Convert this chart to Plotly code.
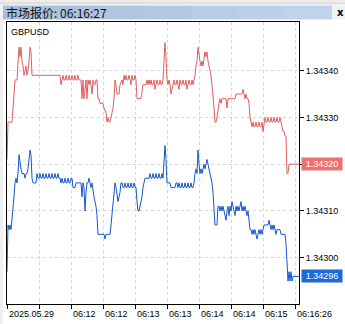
import plotly.graph_objects as go

symbol = "GBPUSD"
window_title = "市场报价: 06:16:27"

# (tick number, price)
ask_points = [
    (0, 1.34321), (1, 1.34329), (5, 1.34329), (6, 1.34332), (7, 1.34334), (8, 1.34338),
    (10, 1.34338), (11, 1.34341), (12, 1.34345), (13, 1.34343), (14, 1.34345), (15, 1.34342),
    (16, 1.34341), (17, 1.34339), (18, 1.34340), (19, 1.34341), (20, 1.34339), (21, 1.34340),
    (22, 1.34342), (23, 1.34345), (24, 1.34344), (25, 1.34339), (53, 1.34339), (54, 1.34337),
    (55, 1.34338), (56, 1.34339), (57, 1.34338), (58, 1.34338), (59, 1.34339), (60, 1.34338),
    (61, 1.34338), (62, 1.34339), (63, 1.34338), (64, 1.34338), (65, 1.34339), (66, 1.34338),
    (67, 1.34338), (68, 1.34339), (69, 1.34338), (70, 1.34338), (71, 1.34339), (72, 1.34338),
    (73, 1.34338), (74, 1.34338), (75, 1.34334), (76, 1.34338), (77, 1.34334), (78, 1.34337),
    (79, 1.34338), (80, 1.34334), (81, 1.34338), (82, 1.34337), (83, 1.34338), (84, 1.34337),
    (85, 1.34335), (86, 1.34338), (87, 1.34337), (88, 1.34337), (89, 1.34338), (90, 1.34338),
    (91, 1.34334), (92, 1.34334), (93, 1.34333), (96, 1.34333), (97, 1.34332), (99, 1.34331),
    (100, 1.34329), (101, 1.34330), (102, 1.34329), (103, 1.34329), (104, 1.34330), (105, 1.34331),
    (106, 1.34332), (107, 1.34334), (108, 1.34338), (109, 1.34337), (110, 1.34335), (112, 1.34335),
    (113, 1.34337), (115, 1.34338), (116, 1.34337), (117, 1.34339), (118, 1.34338), (119, 1.34339),
    (120, 1.34338), (121, 1.34338), (122, 1.34339), (123, 1.34338), (124, 1.34337), (125, 1.34339),
    (126, 1.34338), (127, 1.34338), (128, 1.34339), (129, 1.34338), (130, 1.34334), (134, 1.34334),
    (135, 1.34336), (136, 1.34337), (139, 1.34337), (140, 1.34338), (141, 1.34337), (142, 1.34338),
    (143, 1.34337), (144, 1.34338), (145, 1.34337), (146, 1.34337), (147, 1.34338), (148, 1.34336),
    (149, 1.34337), (150, 1.34338), (151, 1.34337), (152, 1.34337), (153, 1.34338), (154, 1.34337),
    (155, 1.34337), (156, 1.34338), (157, 1.34342), (158, 1.34346), (159, 1.34343), (160, 1.34338),
    (161, 1.34337), (162, 1.34338), (163, 1.34337), (164, 1.34335), (165, 1.34336), (166, 1.34337),
    (167, 1.34338), (168, 1.34337), (169, 1.34337), (170, 1.34338), (171, 1.34337), (172, 1.34336),
    (173, 1.34338), (174, 1.34337), (175, 1.34337), (176, 1.34338), (177, 1.34337), (178, 1.34337),
    (179, 1.34338), (180, 1.34336), (181, 1.34337), (182, 1.34338), (183, 1.34337), (184, 1.34337),
    (185, 1.34338), (186, 1.34337), (187, 1.34338), (188, 1.34339), (189, 1.34341), (190, 1.34342),
    (191, 1.34345), (192, 1.34343), (193, 1.34342), (194, 1.34341), (195, 1.34342), (196, 1.34341),
    (197, 1.34343), (198, 1.34344), (199, 1.34343), (200, 1.34344), (201, 1.34342), (202, 1.34341),
    (203, 1.34340), (204, 1.34339), (205, 1.34337), (206, 1.34335), (207, 1.34332), (208, 1.34329),
    (209, 1.34329), (210, 1.34330), (211, 1.34332), (212, 1.34333), (213, 1.34334), (214, 1.34333),
    (215, 1.34334), (219, 1.34334), (220, 1.34332), (221, 1.34334), (228, 1.34334), (229, 1.34335),
    (235, 1.34335), (236, 1.34336), (237, 1.34335), (238, 1.34334), (239, 1.34335), (240, 1.34334),
    (241, 1.34334), (242, 1.34333), (243, 1.34330), (244, 1.34329), (245, 1.34328), (246, 1.34329),
    (247, 1.34328), (248, 1.34328), (249, 1.34329), (250, 1.34328), (251, 1.34328), (252, 1.34329),
    (253, 1.34328), (254, 1.34328), (255, 1.34329), (256, 1.34327), (257, 1.34329), (258, 1.34330),
    (259, 1.34329), (260, 1.34329), (261, 1.34330), (262, 1.34329), (263, 1.34329), (264, 1.34330),
    (265, 1.34329), (266, 1.34329), (267, 1.34330), (268, 1.34329), (269, 1.34329), (270, 1.34330),
    (271, 1.34329), (272, 1.34329), (273, 1.34330), (274, 1.34329), (275, 1.34328), (276, 1.34327),
    (277, 1.34327), (278, 1.34326), (279, 1.34326), (280, 1.34318), (281, 1.34318), (282, 1.34320),
    (292, 1.34320),
]

bid_points = [
    (0, 1.34297), (1, 1.34307), (2, 1.34306), (3, 1.34307), (4, 1.34306), (5, 1.34308),
    (6, 1.34310), (7, 1.34313), (8, 1.34316), (9, 1.34317), (10, 1.34316), (11, 1.34318),
    (12, 1.34322), (13, 1.34320), (14, 1.34319), (15, 1.34318), (17, 1.34318), (18, 1.34317),
    (19, 1.34318), (20, 1.34318), (21, 1.34319), (22, 1.34321), (23, 1.34323), (24, 1.34322),
    (25, 1.34317), (26, 1.34316), (29, 1.34316), (30, 1.34318), (31, 1.34317), (32, 1.34317),
    (33, 1.34318), (34, 1.34317), (35, 1.34317), (36, 1.34318), (37, 1.34317), (38, 1.34317),
    (39, 1.34318), (40, 1.34317), (41, 1.34317), (42, 1.34318), (43, 1.34317), (44, 1.34317),
    (45, 1.34318), (46, 1.34317), (47, 1.34317), (48, 1.34318), (49, 1.34317), (50, 1.34317),
    (51, 1.34318), (52, 1.34317), (53, 1.34317), (54, 1.34316), (55, 1.34317), (56, 1.34316),
    (57, 1.34316), (58, 1.34317), (59, 1.34316), (60, 1.34316), (61, 1.34317), (62, 1.34316),
    (63, 1.34316), (64, 1.34317), (65, 1.34317), (66, 1.34315), (68, 1.34315), (69, 1.34316),
    (74, 1.34316), (75, 1.34313), (76, 1.34316), (77, 1.34315), (78, 1.34310), (79, 1.34314),
    (80, 1.34316), (81, 1.34316), (82, 1.34317), (83, 1.34316), (84, 1.34315), (85, 1.34316),
    (86, 1.34314), (87, 1.34313), (88, 1.34312), (89, 1.34311), (90, 1.34309), (91, 1.34305),
    (97, 1.34305), (98, 1.34304), (99, 1.34305), (103, 1.34305), (104, 1.34307), (105, 1.34309),
    (106, 1.34311), (107, 1.34313), (108, 1.34316), (109, 1.34315), (110, 1.34313), (111, 1.34312),
    (112, 1.34313), (113, 1.34314), (114, 1.34316), (115, 1.34316), (116, 1.34315), (117, 1.34315),
    (118, 1.34316), (119, 1.34315), (120, 1.34315), (121, 1.34316), (122, 1.34315), (123, 1.34315),
    (124, 1.34316), (125, 1.34315), (126, 1.34315), (127, 1.34316), (128, 1.34315), (129, 1.34315),
    (130, 1.34312), (131, 1.34310), (132, 1.34310), (133, 1.34311), (134, 1.34312), (135, 1.34313),
    (136, 1.34315), (137, 1.34316), (138, 1.34317), (142, 1.34317), (143, 1.34318), (144, 1.34317),
    (145, 1.34317), (146, 1.34318), (147, 1.34317), (148, 1.34317), (149, 1.34318), (150, 1.34317),
    (151, 1.34317), (152, 1.34318), (153, 1.34317), (154, 1.34317), (155, 1.34318), (156, 1.34317),
    (157, 1.34320), (158, 1.34324), (159, 1.34321), (160, 1.34316), (163, 1.34316), (164, 1.34315),
    (168, 1.34315), (169, 1.34316), (170, 1.34316), (171, 1.34315), (172, 1.34316), (173, 1.34315),
    (174, 1.34315), (175, 1.34316), (176, 1.34315), (177, 1.34315), (178, 1.34316), (179, 1.34315),
    (180, 1.34315), (181, 1.34316), (182, 1.34315), (183, 1.34315), (184, 1.34316), (185, 1.34315),
    (186, 1.34315), (187, 1.34316), (188, 1.34318), (189, 1.34319), (190, 1.34318), (191, 1.34323),
    (192, 1.34320), (193, 1.34318), (194, 1.34319), (195, 1.34318), (196, 1.34319), (197, 1.34320),
    (198, 1.34319), (199, 1.34320), (200, 1.34321), (201, 1.34320), (202, 1.34319), (203, 1.34318),
    (204, 1.34317), (205, 1.34316), (206, 1.34314), (207, 1.34309), (208, 1.34307), (210, 1.34307),
    (211, 1.34311), (212, 1.34311), (213, 1.34310), (214, 1.34311), (215, 1.34310), (216, 1.34311),
    (217, 1.34310), (218, 1.34309), (219, 1.34308), (220, 1.34310), (221, 1.34311), (222, 1.34309),
    (223, 1.34311), (224, 1.34310), (225, 1.34312), (226, 1.34311), (227, 1.34310), (228, 1.34309),
    (229, 1.34311), (230, 1.34310), (231, 1.34311), (232, 1.34310), (233, 1.34311), (234, 1.34312),
    (235, 1.34310), (236, 1.34311), (237, 1.34310), (238, 1.34311), (239, 1.34310), (240, 1.34309),
    (241, 1.34310), (242, 1.34308), (243, 1.34306), (244, 1.34306), (245, 1.34305), (246, 1.34306),
    (247, 1.34305), (248, 1.34306), (249, 1.34305), (250, 1.34304), (251, 1.34305), (252, 1.34306),
    (253, 1.34305), (254, 1.34306), (255, 1.34305), (256, 1.34306), (257, 1.34307), (261, 1.34307),
    (262, 1.34308), (263, 1.34307), (264, 1.34306), (265, 1.34307), (266, 1.34306), (267, 1.34307),
    (268, 1.34306), (269, 1.34305), (270, 1.34306), (273, 1.34306), (274, 1.34305), (278, 1.34305),
    (279, 1.34303), (280, 1.34298), (281, 1.34295), (282, 1.34297), (283, 1.34295), (284, 1.34297),
    (285, 1.34295), (286, 1.34296), (292, 1.34296),
]

x_tick_pos = [0, 32, 64, 96, 128, 160, 192, 224, 256, 288]
x_tick_labels = ["2025.05.29", "", "06:12", "06:12", "06:13", "06:13", "06:14", "06:14", "06:15", "06:16:26"]
y_tick_vals = [1.34300, 1.34310, 1.34320, 1.34330, 1.34340]
ask_last = 1.34320
bid_last = 1.34296

# ---------------- layout constants ----------------
W, H = 345, 324
ML, MR, MT, MB = 7, 46, 22, 20
PW, PH = W - ML - MR, H - MT - MB
FONT = "Liberation Sans, Arial, sans-serif"
ASK_COLOR = "#de5f5f"
BID_COLOR = "#1558cc"


def px(xp):
    return (xp - ML) / PW


def py(yp):
    return (H - MB - yp) / PH


fig = go.Figure()
fig.add_trace(go.Scatter(
    x=[p[0] for p in ask_points], y=[p[1] for p in ask_points],
    mode="lines", line=dict(color=ASK_COLOR, width=1), hoverinfo="skip", name="Ask"))
fig.add_trace(go.Scatter(
    x=[p[0] for p in bid_points], y=[p[1] for p in bid_points],
    mode="lines", line=dict(color=BID_COLOR, width=1), hoverinfo="skip", name="Bid"))

shapes = []
shapes.append(dict(type="rect", xref="paper", yref="paper", x0=px(0), x1=px(3), y0=py(324), y1=py(0),
                   fillcolor="#f0f0f0", line=dict(width=0), layer="below"))
shapes.append(dict(type="rect", xref="paper", yref="paper", x0=px(0), x1=px(345), y0=py(5), y1=py(0),
                   fillcolor="#ededed", line=dict(width=0), layer="below"))
shapes.append(dict(type="line", xref="paper", yref="paper", x0=px(0), x1=px(345), y0=py(3), y1=py(3),
                   line=dict(color="#d4d4d4", width=1)))
grad = ["#a7bfdc", "#abc2de", "#afc5e0", "#b3c9e3", "#b7cce6", "#bbcfe8", "#bfd3ea"]
x0 = 3
step = (332 - 3) / len(grad)
for i, c in enumerate(grad):
    shapes.append(dict(type="rect", xref="paper", yref="paper",
                       x0=px(x0 + i * step), x1=px(x0 + (i + 1) * step + 0.5),
                       y0=py(19.5), y1=py(5.5), fillcolor=c, line=dict(width=0), layer="below"))
shapes.append(dict(type="rect", xref="paper", yref="paper", x0=px(332), x1=px(345), y0=py(19.5), y1=py(5.5),
                   fillcolor="#eef1f5", line=dict(width=0), layer="below"))

annotations = []
annotations.append(dict(text=window_title, xref="paper", yref="paper", x=px(4), y=py(12.5),
                        xanchor="left", yanchor="middle", showarrow=False,
                        font=dict(family="Noto Sans CJK SC", size=12, color="#151515")))
annotations.append(dict(text="<b>x</b>", xref="paper", yref="paper", x=px(340), y=py(12.5),
                        xanchor="center", yanchor="middle", showarrow=False,
                        font=dict(family="DejaVu Sans", size=10, color="#000000")))
annotations.append(dict(text=symbol, xref="paper", yref="paper", x=0, y=1, xshift=2, yshift=-3,
                        xanchor="left", yanchor="top", showarrow=False,
                        font=dict(family=FONT, size=9, color="#000000")))
for xv, lab in zip(x_tick_pos, x_tick_labels):
    if lab:
        annotations.append(dict(text=lab, x=xv, xref="x", y=0, yref="paper", yshift=-3,
                                xanchor="left", yanchor="top", showarrow=False,
                                font=dict(family=FONT, size=9, color="#000000")))
for val, col in [(ask_last, "#f07070"), (bid_last, "#1a6ad8")]:
    annotations.append(dict(text=f"{val:.5f}", x=1, xref="paper", y=val, yref="y", xshift=2,
                            xanchor="left", yanchor="middle", showarrow=False,
                            width=40, height=12, bgcolor=col, borderpad=0, align="center",
                            font=dict(family=FONT, size=9, color="#ffffff")))

fig.update_layout(
    width=W, height=H,
    margin=dict(l=ML, r=MR, t=MT, b=MB, pad=0),
    paper_bgcolor="#ffffff", plot_bgcolor="#ffffff",
    showlegend=False,
    shapes=shapes, annotations=annotations,
    xaxis=dict(range=[0, 292], tickvals=x_tick_pos, showticklabels=False,
               ticks="outside", ticklen=4, tickcolor="#000000",
               showgrid=True, gridcolor="#d6d6d6", griddash="3px,3px", gridwidth=1,
               showline=True, mirror=True, linecolor="#000000", linewidth=1, zeroline=False,
               fixedrange=True),
    yaxis=dict(range=[1.342901, 1.343504], side="right", tickvals=y_tick_vals, tickformat=".5f",
               ticks="outside", ticklen=4, tickcolor="#000000",
               tickfont=dict(family=FONT, size=9, color="#000000"),
               showgrid=True, gridcolor="#d6d6d6", griddash="3px,3px", gridwidth=1,
               showline=True, mirror=True, linecolor="#000000", linewidth=1, zeroline=False,
               fixedrange=True),
)

fig.write_html("out.html", config={"displayModeBar": False})
